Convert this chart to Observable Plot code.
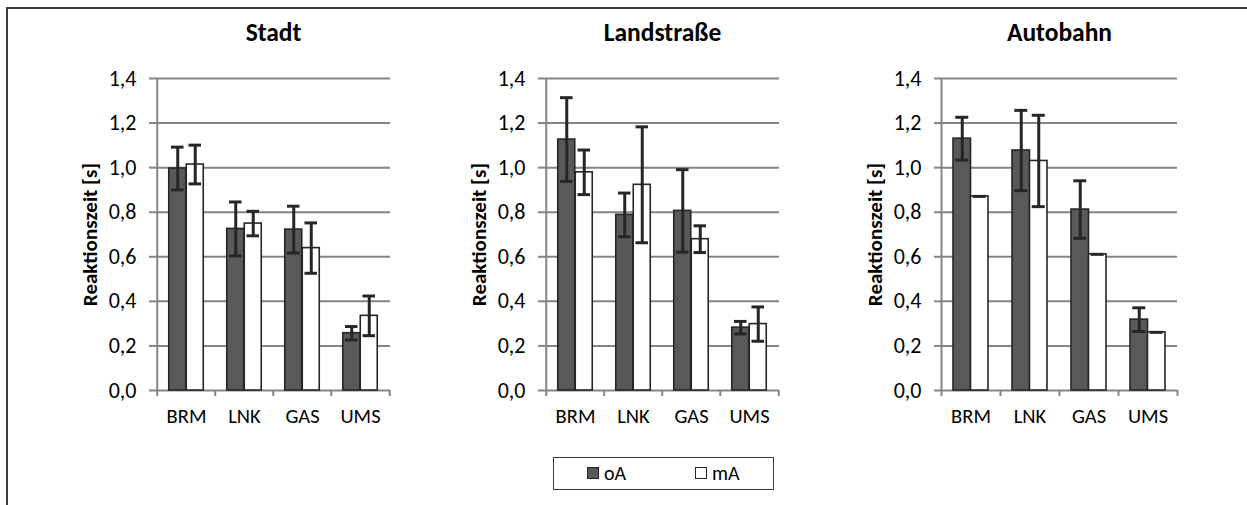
<!DOCTYPE html>
<html>
<head>
<meta charset="utf-8">
<script src="https://cdn.jsdelivr.net/npm/d3@7"></script>
<script src="https://cdn.jsdelivr.net/npm/@observablehq/plot@0.6"></script>
<style>
  body { margin: 0; background: #fff; }
  #chart { position: relative; width: 1247px; height: 505px; overflow: hidden; background: #fff;
           font-family: Carlito, Lato, "Open Sans", sans-serif; }
  .panel { position: absolute; top: 0; }
  .rule-top { position: absolute; left: 6px; top: 7px; right: 0; height: 2px; background: #3c3c3c; }
  .rule-left { position: absolute; left: 6px; top: 7px; bottom: 0; width: 2px; background: #3c3c3c; }
  #legend { position: absolute; left: 553px; top: 457px; width: 221px; height: 33px; box-sizing: border-box;
            border: 1.5px solid #3c3c3c; font-size: 20px; color: #000; }
  #legend .item { position: absolute; top: 0; height: 30px; display: flex; align-items: center; }
  #legend .sw { width: 10px; height: 10px; border: 1.5px solid #262626; margin-right: 5px; }
</style>
</head>
<body>
<div id="chart">
  <div class="rule-top"></div>
  <div class="rule-left"></div>
  <div id="legend"></div>
</div>
<script>
// Reaction times (s) per task, without (oA) and with (mA) assistance, ± error
const categories = ["BRM", "LNK", "GAS", "UMS"];
const seriesNames = ["oA", "mA"];
const panelTitles = ["Stadt", "Landstraße", "Autobahn"];
const yTicks = [0, 0.2, 0.4, 0.6, 0.8, 1.0, 1.2, 1.4];
const yLabel = "Reaktionszeit [s]";

const stadtOA = [0.996, 0.725, 0.722, 0.257];
const stadtOAErr = [0.096, 0.121, 0.105, 0.030];
const stadtMA = [1.014, 0.749, 0.639, 0.335];
const stadtMAErr = [0.087, 0.055, 0.113, 0.089];

const landOA = [1.126, 0.788, 0.806, 0.282];
const landOAErr = [0.188, 0.098, 0.185, 0.028];
const landMA = [0.979, 0.923, 0.679, 0.298];
const landMAErr = [0.100, 0.260, 0.060, 0.077];

const autoOA = [1.130, 1.077, 0.812, 0.318];
const autoOAErr = [0.096, 0.180, 0.129, 0.053];
const autoMA = [0.871, 1.030, 0.611, 0.261];
const autoMAErr = [0, 0.205, 0, 0];

const seriesFill = {oA: "#595959", mA: "#ffffff"};
const ink = "#262626";
const gridColor = "#858585";
const fontFamily = "Carlito, Lato, 'Open Sans', sans-serif";

function drawPanel(title, oa, oaErr, ma, maErr, axisX, plotW) {
  const rows = categories.flatMap((c, i) => [
    {cat: c, series: "oA", value: oa[i], err: oaErr[i]},
    {cat: c, series: "mA", value: ma[i], err: maErr[i]}
  ]);
  const mL = 100, mR = 12, mT = 78, mB = 40, H = 430;
  const plotH = H - mT - mB;
  const bw = plotW / 4;
  const barW = 17.5;
  const capW = 13;
  const capInset = (bw - capW) / 2;
  const marks = [];

  marks.push(Plot.gridY({ticks: yTicks, stroke: gridColor, strokeOpacity: 1, strokeWidth: 2}));
  // left axis line and category boundary ticks
  marks.push(Plot.tickX([categories[0]], {x: d => d, dx: -bw / 2, insetBottom: -6, stroke: gridColor, strokeWidth: 2}));
  marks.push(Plot.tickX(categories.slice(1), {x: d => d, dx: -bw / 2, insetTop: plotH, insetBottom: -6, stroke: gridColor, strokeWidth: 2}));
  marks.push(Plot.tickX([categories[categories.length - 1]], {x: d => d, dx: bw / 2, insetTop: plotH, insetBottom: -6, stroke: gridColor, strokeWidth: 2}));

  seriesNames.forEach(s => {
    const sub = rows.filter(d => d.series === s);
    const left = s === "oA";
    marks.push(Plot.barY(sub, {
      x: "cat", y: "value", fill: seriesFill[s], stroke: ink, strokeWidth: 1.6,
      insetLeft: left ? bw / 2 - barW : bw / 2,
      insetRight: left ? bw / 2 : bw / 2 - barW
    }));
  });
  seriesNames.forEach(s => {
    const sub = rows.filter(d => d.series === s);
    const dx = s === "oA" ? -barW / 2 : barW / 2;
    marks.push(Plot.ruleX(sub.filter(d => d.err > 0), {x: "cat", y1: d => d.value - d.err, y2: d => d.value + d.err, dx, stroke: ink, strokeWidth: 3}));
    marks.push(Plot.tickY(sub, {x: "cat", y: d => d.value + d.err, dx, insetLeft: capInset, insetRight: capInset, stroke: ink, strokeWidth: 3}));
    marks.push(Plot.tickY(sub.filter(d => d.err > 0), {x: "cat", y: d => d.value - d.err, dx, insetLeft: capInset, insetRight: capInset, stroke: ink, strokeWidth: 3}));
  });

  marks.push(Plot.axisY({ticks: yTicks, tickFormat: d => d.toFixed(1).replace(".", ","), tickSize: 7, tickPadding: 13,
    stroke: gridColor, strokeWidth: 2, label: null}));
  marks.push(Plot.axisX({tickSize: 0, tickPadding: 18, label: null}));
  marks.push(Plot.text([yLabel], {text: d => d, frameAnchor: "left", textAnchor: "middle", lineAnchor: "middle",
    dx: -66, rotate: -90, fontSize: 21, fontWeight: "bold", fill: "#000"}));
  marks.push(Plot.text([title], {text: d => d, frameAnchor: "top", lineAnchor: "middle", dy: -46,
    fontSize: 25.5, fontWeight: "bold", fill: "#000"}));

  const svg = Plot.plot({
    width: mL + plotW + mR, height: H,
    marginLeft: mL, marginRight: mR, marginTop: mT, marginBottom: mB,
    x: {type: "band", domain: categories, padding: 0},
    y: {domain: [0, 1.4]},
    style: {fontFamily, fontSize: "20px", color: "#000", background: "transparent", overflow: "visible"},
    marks
  });
  // tick label typography
  d3.select(svg).selectAll('g[aria-label="y-axis tick label"]').attr("font-size", null).style("font-size", "22px");
  d3.select(svg).selectAll('g[aria-label="x-axis tick label"]').attr("font-size", null).style("font-size", "20.5px");
  svg.classList.add("panel");
  svg.style.left = (axisX - mL) + "px";
  document.getElementById("chart").appendChild(svg);
}

drawPanel(panelTitles[0], stadtOA, stadtOAErr, stadtMA, stadtMAErr, 155.5, 234);
drawPanel(panelTitles[1], landOA, landOAErr, landMA, landMAErr, 544.5, 234);
drawPanel(panelTitles[2], autoOA, autoOAErr, autoMA, autoMAErr, 941, 236);

// legend
const legend = document.getElementById("legend");
seriesNames.forEach((s, i) => {
  const item = document.createElement("div");
  item.className = "item";
  item.style.left = (i === 0 ? 33 : 141) + "px";
  const sw = document.createElement("span");
  sw.className = "sw";
  sw.style.background = seriesFill[s];
  const label = document.createElement("span");
  label.textContent = s;
  item.appendChild(sw);
  item.appendChild(label);
  legend.appendChild(item);
});
</script>
</body>
</html>
